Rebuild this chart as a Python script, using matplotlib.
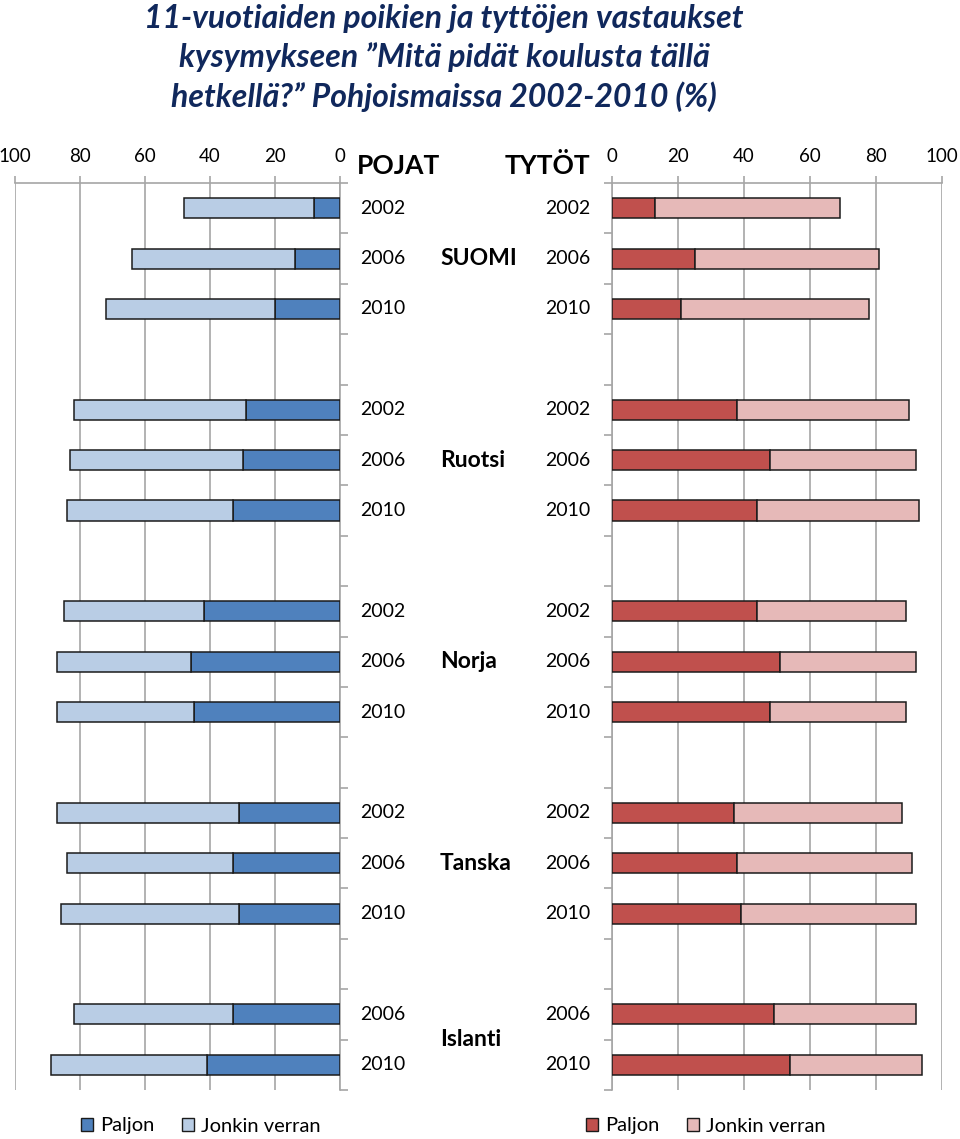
import matplotlib
matplotlib.use("Agg")
import matplotlib.pyplot as plt
from matplotlib.patches import Patch
from matplotlib.transforms import blended_transform_factory

# ---------------- data ----------------
countries = ["SUOMI", "Ruotsi", "Norja", "Tanska", "Islanti"]
years = [["2002", "2006", "2010"],
         ["2002", "2006", "2010"],
         ["2002", "2006", "2010"],
         ["2002", "2006", "2010"],
         ["2006", "2010"]]
boys_paljon = [[8, 14, 20], [29, 30, 33], [42, 46, 45], [31, 33, 31], [33, 41]]
boys_jonkin = [[40, 50, 52], [53, 53, 51], [43, 41, 42], [56, 51, 55], [49, 48]]
girls_paljon = [[13, 25, 21], [38, 48, 44], [44, 51, 48], [37, 38, 39], [49, 54]]
girls_jonkin = [[56, 56, 57], [52, 44, 49], [45, 41, 41], [51, 53, 53], [43, 40]]
x_ticks = [0, 20, 40, 60, 80, 100]
legend_labels = ["Paljon", "Jonkin verran"]
side_titles = ["POJAT", "TYTÖT"]
title = ("11-vuotiaiden poikien ja tyttöjen vastaukset\n"
         "kysymykseen \u201dMitä pidät koulusta tällä\n"
         "hetkellä?\u201d Pohjoismaissa 2002-2010 (%)")

# ---------------- style ----------------
FONT = ["Lato", "DejaVu Sans"]
plt.rcParams["font.family"] = FONT
W, H = 960, 1139
BLUE_D, BLUE_L = "#4F81BD", "#B9CDE5"
RED_D, RED_L = "#C0504D", "#E6B9B8"
EDGE = "#1b1b1b"
GRID = "#A6A6A6"

fig = plt.figure(figsize=(W / 100, H / 100), dpi=100)

def fx(px):
    return px / W

def fy(py):
    return 1 - py / H

top_px, bot_px = 183, 1090
ax_l = fig.add_axes([fx(15), fy(bot_px), fx(340 - 15), (bot_px - top_px) / H])
ax_r = fig.add_axes([fx(612), fy(bot_px), fx(942 - 612), (bot_px - top_px) / H])

# row positions derived from the category structure
ys, labels, group_centers = [], [], []
slot = 0
for gi, yrs in enumerate(years):
    gpos = []
    for y in yrs:
        ys.append(slot + 0.5)
        gpos.append(slot + 0.5)
        labels.append(y)
        slot += 1
    group_centers.append(sum(gpos) / len(gpos))
    if gi < len(years) - 1:
        slot += 1
n_slots = slot

flat = lambda l: [v for g in l for v in g]
bp, bj = flat(boys_paljon), flat(boys_jonkin)
gp, gj = flat(girls_paljon), flat(girls_jonkin)

BH = 0.4
ax_l.barh(ys, bp, height=BH, color=BLUE_D, edgecolor=EDGE, linewidth=1.1, zorder=3)
ax_l.barh(ys, bj, left=bp, height=BH, color=BLUE_L, edgecolor=EDGE, linewidth=1.1, zorder=3)
ax_r.barh(ys, gp, height=BH, color=RED_D, edgecolor=EDGE, linewidth=1.1, zorder=3)
ax_r.barh(ys, gj, left=gp, height=BH, color=RED_L, edgecolor=EDGE, linewidth=1.1, zorder=3)

for ax, rev in ((ax_l, True), (ax_r, False)):
    ax.set_xlim((100, 0) if rev else (0, 100))
    ax.set_ylim(n_slots, 0)
    ax.set_xticks(x_ticks)
    ax.set_xticklabels([str(t) for t in x_ticks])
    ax.xaxis.tick_top()
    ax.set_yticks(range(0, n_slots + 1))
    ax.set_yticklabels([])
    ax.grid(axis="x", color=GRID, linewidth=1.2)
    ax.set_axisbelow(True)
    ax.tick_params(axis="x", length=5, width=1.2, color=GRID, labelsize=13.5, pad=8)
    ax.tick_params(axis="y", length=6, width=1.2, color=GRID, direction="out")
    for s in ax.spines.values():
        s.set_color(GRID)
        s.set_linewidth(1.2)
    ax.spines["bottom"].set_visible(False)
    if rev:
        ax.spines["left"].set_visible(False)
        ax.yaxis.tick_right()
    else:
        ax.spines["right"].set_visible(False)
        ax.yaxis.tick_left()
    ax.set_facecolor("none")

# year and country labels
tl = blended_transform_factory(fig.transFigure, ax_l.transData)
for y, lab in zip(ys, labels):
    ax_l.text(fx(383), y, lab, transform=tl, ha="center", va="center", fontsize=14)
    ax_l.text(fx(567.5), y, lab, transform=tl, ha="center", va="center", fontsize=14)
for c, gc in zip(countries, group_centers):
    ax_l.text(fx(440), gc, c, transform=tl, ha="left", va="center",
              fontsize=16.5, fontweight="bold")

fig.text(fx(357), fy(166), side_titles[0], ha="left", va="center", fontsize=19, fontweight="bold")
fig.text(fx(590), fy(166), side_titles[1], ha="right", va="center", fontsize=19, fontweight="bold")

fig.text(fx(444), fy(58), title, ha="center", va="center", fontsize=23,
         fontweight="bold", fontstyle="italic", color="#10285C", linespacing=1.36)

# legends
def add_legend(x_px, dark, light):
    handles = [Patch(facecolor=dark, edgecolor=EDGE, linewidth=1.0),
               Patch(facecolor=light, edgecolor=EDGE, linewidth=1.0)]
    leg = fig.legend(handles, legend_labels, ncol=2, loc="center left",
                     bbox_to_anchor=(fx(x_px), fy(1126)), bbox_transform=fig.transFigure,
                     frameon=False, fontsize=14.5, handlelength=0.6, handleheight=0.6,
                     handletextpad=0.35, columnspacing=1.35, borderpad=0, borderaxespad=0)
    return leg

add_legend(81, BLUE_D, BLUE_L)
add_legend(586, RED_D, RED_L)

fig.savefig("out.png", dpi=100)
